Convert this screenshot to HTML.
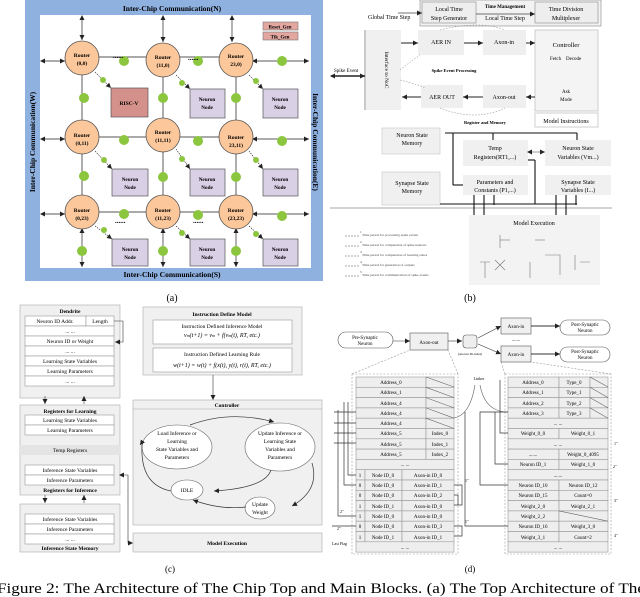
<!DOCTYPE html>
<html><head><meta charset="utf-8"><style>
html,body{margin:0;padding:0;background:#fff;}
svg{display:block;font-family:"Liberation Serif",serif;}
.b{font-weight:bold}
</style></head><body>
<svg width="640" height="597" viewBox="0 0 640 597" xmlns="http://www.w3.org/2000/svg">
<defs>
<marker id="ar" markerWidth="6" markerHeight="6" refX="5" refY="3" orient="auto" markerUnits="userSpaceOnUse"><path d="M0,0.5 L5,3 L0,5.5z" fill="#222"/></marker>
<marker id="as" markerWidth="6" markerHeight="6" refX="1" refY="3" orient="auto" markerUnits="userSpaceOnUse"><path d="M5,0.5 L0,3 L5,5.5z" fill="#222"/></marker>
</defs>

<!-- ===== (a) ===== -->
<rect x="25" y="0" width="298" height="281" fill="#8fb1e0"/>
<rect x="40" y="15" width="271" height="253" fill="#fff"/>
<text x="172" y="11" font-size="7.5" class="b" text-anchor="middle">Inter-Chip Communication(N)</text>
<text x="172" y="277" font-size="7.5" class="b" text-anchor="middle">Inter-Chip Communication(S)</text>
<text transform="translate(35,142) rotate(-90)" font-size="7.5" class="b" text-anchor="middle">Inter-Chip Communication(W)</text>
<text transform="translate(313,142) rotate(90)" font-size="7.5" class="b" text-anchor="middle">Inter-Chip Communication(E)</text>
<rect x="263" y="22" width="35" height="8" fill="#e3a7a0" stroke="#777" stroke-width="0.6"/>
<text x="280" y="28.5" font-size="5" class="b" text-anchor="middle">Reset_Gen</text>
<rect x="263" y="32" width="35" height="8" fill="#e3a7a0" stroke="#777" stroke-width="0.6"/>
<text x="280" y="38.5" font-size="5" class="b" text-anchor="middle">Tik_Gen</text>
<g stroke="#777" stroke-width="1.2">
<line x1="82" y1="57" x2="236" y2="57"/><line x1="82" y1="137" x2="236" y2="137"/><line x1="82" y1="212" x2="236" y2="212"/>
<line x1="82" y1="57" x2="82" y2="212"/><line x1="163" y1="57" x2="163" y2="212"/><line x1="236" y1="57" x2="236" y2="212"/>
</g>
<g stroke="#222" stroke-width="0.7" marker-end="url(#ar)" marker-start="url(#as)">
<line x1="82" y1="16" x2="82" y2="40"/><line x1="163" y1="16" x2="163" y2="42"/><line x1="232" y1="16" x2="232" y2="42"/>
<line x1="41" y1="61" x2="65" y2="61"/><line x1="41" y1="139" x2="65" y2="139"/><line x1="41" y1="214" x2="65" y2="214"/>
<line x1="253" y1="61" x2="309" y2="61"/><line x1="253" y1="139" x2="309" y2="139"/><line x1="253" y1="214" x2="309" y2="214"/>
<line x1="82" y1="229" x2="82" y2="267"/><line x1="163" y1="229" x2="163" y2="267"/><line x1="236" y1="229" x2="236" y2="267"/>
</g>
<g fill="#fcc79a" stroke="#555" stroke-width="0.8">
<circle cx="82" cy="58" r="17"/><circle cx="163" cy="60" r="17"/><circle cx="236" cy="60" r="17"/>
<circle cx="82" cy="137" r="17"/><circle cx="163" cy="135" r="17"/><circle cx="236" cy="137" r="17"/>
<circle cx="82" cy="212" r="17"/><circle cx="163" cy="212" r="17"/><circle cx="236" cy="212" r="17"/>
</g>
<g font-size="5.5" class="b" text-anchor="middle">
<text x="82" y="57">Router</text><text x="82" y="65">(0,0)</text>
<text x="163" y="59">Router</text><text x="163" y="67">(11,0)</text>
<text x="236" y="58">Router</text><text x="236" y="66">23,0)</text>
<text x="82" y="137">Router</text><text x="82" y="145">(0,11)</text>
<text x="163" y="134">Router</text><text x="163" y="142">(11,11)</text>
<text x="236" y="139">Router</text><text x="236" y="147">23,11)</text>
<text x="82" y="212">Router</text><text x="82" y="220">(0,23)</text>
<text x="163" y="212">Router</text><text x="163" y="220">(11,23)</text>
<text x="236" y="212">Router</text><text x="236" y="220">(23,23)</text>
</g>
<rect x="111" y="88" width="37" height="29" fill="#d4908a" stroke="#555" stroke-width="0.7"/>
<text x="129" y="105" font-size="5.5" class="b" text-anchor="middle">RISC-V</text>
<g fill="#d9d0e6" stroke="#555" stroke-width="0.7">
<rect x="190" y="89" width="35" height="29"/><rect x="263" y="89" width="35" height="29"/>
<rect x="112" y="169" width="36" height="27"/><rect x="190" y="169" width="35" height="27"/><rect x="263" y="169" width="35" height="27"/>
<rect x="112" y="239" width="36" height="27"/><rect x="190" y="239" width="35" height="27"/><rect x="263" y="239" width="35" height="27"/>
</g>
<g font-size="5.2" class="b" text-anchor="middle">
<text x="207" y="101">Neuron</text><text x="207" y="109">Node</text>
<text x="280" y="101">Neuron</text><text x="280" y="109">Node</text>
<text x="130" y="181">Neuron</text><text x="130" y="189">Node</text>
<text x="207" y="181">Neuron</text><text x="207" y="189">Node</text>
<text x="280" y="181">Neuron</text><text x="280" y="189">Node</text>
<text x="130" y="251">Neuron</text><text x="130" y="259">Node</text>
<text x="207" y="251">Neuron</text><text x="207" y="259">Node</text>
<text x="280" y="251">Neuron</text><text x="280" y="259">Node</text>
</g>
<g stroke="#222" stroke-width="0.6" stroke-dasharray="1.5,1" marker-end="url(#ar)">
<line x1="95" y1="72" x2="111" y2="88"/><line x1="176" y1="75" x2="190" y2="89"/><line x1="249" y1="75" x2="263" y2="89"/>
<line x1="95" y1="151" x2="112" y2="169"/><line x1="176" y1="149" x2="190" y2="169"/><line x1="249" y1="151" x2="263" y2="169"/>
<line x1="95" y1="226" x2="112" y2="239"/><line x1="176" y1="226" x2="190" y2="239"/><line x1="249" y1="226" x2="263" y2="239"/>
</g>
<g fill="#8cc63f">
<circle cx="124" cy="61" r="5"/><circle cx="198" cy="61" r="5"/><circle cx="282" cy="61" r="5"/>
<circle cx="124" cy="140" r="5"/><circle cx="198" cy="141" r="5"/><circle cx="282" cy="141" r="5"/>
<circle cx="124" cy="214" r="5"/><circle cx="198" cy="215" r="5"/><circle cx="282" cy="216" r="5"/>
<circle cx="84" cy="98" r="5"/><circle cx="163" cy="98" r="5"/><circle cx="236" cy="98" r="5"/>
<circle cx="84" cy="176" r="5"/><circle cx="163" cy="177" r="5"/><circle cx="236" cy="177" r="5"/>
<circle cx="82" cy="251" r="5"/><circle cx="163" cy="251" r="5"/><circle cx="236" cy="251" r="5"/>
<circle cx="103" cy="80" r="3"/><circle cx="182" cy="83" r="3"/><circle cx="256" cy="81" r="3"/>
<circle cx="104" cy="160" r="3"/><circle cx="182" cy="159" r="3"/><circle cx="256" cy="160" r="3"/>
<circle cx="104" cy="230" r="3"/><circle cx="182" cy="233" r="3"/><circle cx="256" cy="234" r="3"/>
</g>
<g font-size="7" class="b"><text x="113" y="58">......</text><text x="188" y="60">......</text><text x="115" y="223">......</text><text x="193" y="223">......</text></g>
<text x="172" y="301" font-size="10" text-anchor="middle">(a)</text>

<!-- ===== (b) ===== -->
<g font-size="6" stroke-width="0.7">
<rect x="420" y="0" width="181" height="26" fill="#f2f2f2" stroke="#999"/>
<rect x="422" y="2" width="54" height="21" fill="#eee" stroke="#999"/>
<rect x="535" y="2" width="63" height="21" fill="#eee" stroke="#999"/>
<text x="449" y="11" text-anchor="middle">Local Time</text><text x="449" y="20" text-anchor="middle">Step Generator</text>
<text x="566" y="11" text-anchor="middle">Time Division</text><text x="566" y="20" text-anchor="middle">Multiplexer</text>
<text x="505" y="8" font-size="5" class="b" text-anchor="middle">Time Management</text>
<text x="505" y="20" text-anchor="middle">Local Time Step</text>
<text x="368" y="19">Global Time Step</text>
<line x1="476" y1="14" x2="535" y2="14" stroke="#444" marker-end="url(#ar)"/>
<line x1="398" y1="13" x2="422" y2="13" stroke="#444" marker-end="url(#ar)"/>
<rect x="366" y="30" width="35" height="80" fill="#f0f0f0"/>
<line x1="365" y1="30" x2="365" y2="110" stroke="#666"/>
<text transform="translate(385,70) rotate(90)" text-anchor="middle" font-size="5.5">Interface to NoC</text>
<rect x="418" y="30" width="46" height="25" fill="#efefef"/><text x="441" y="44" text-anchor="middle">AER IN</text>
<rect x="483" y="30" width="43" height="25" fill="#efefef"/><text x="504" y="44" text-anchor="middle">Axon-in</text>
<rect x="421" y="85" width="42" height="23" fill="#efefef"/><text x="442" y="99" text-anchor="middle">AER OUT</text>
<rect x="483" y="85" width="43" height="23" fill="#efefef"/><text x="504" y="99" text-anchor="middle">Axon-out</text>
<rect x="535" y="30" width="63" height="81" fill="#f4f4f4" stroke="#bbb"/>
<text x="566" y="47" text-anchor="middle" font-size="6.5">Controller</text>
<text x="550" y="60" font-size="5">Fetch</text><text x="566" y="60" font-size="5">Decode</text>
<text x="566" y="93" text-anchor="middle" font-size="5">Ask</text><text x="566" y="101" text-anchor="middle" font-size="5">Mode</text>
<rect x="535" y="113" width="63" height="14" fill="#fff" stroke="#bbb"/>
<text x="566" y="123" text-anchor="middle">Model Instructions</text>
<text x="454" y="72" text-anchor="middle" font-size="4.5" class="b">Spike Event Processing</text>
<text x="485" y="124" text-anchor="middle" font-size="4.5" class="b">Register and Memory</text>
<text x="334" y="72" font-size="5">Spike Event</text>
<line x1="331" y1="76" x2="365" y2="76" stroke="#222" stroke-width="1.4" marker-start="url(#as)" marker-end="url(#ar)"/>
<g stroke="#222" stroke-width="1" marker-end="url(#ar)">
<line x1="401" y1="43" x2="418" y2="43"/><line x1="464" y1="43" x2="483" y2="43"/><line x1="526" y1="43" x2="535" y2="43"/>
<line x1="483" y1="97" x2="463" y2="97"/><line x1="421" y1="97" x2="402" y2="97"/><line x1="535" y1="97" x2="526" y2="97"/>
</g>
<g fill="none" stroke="#777" stroke-dasharray="1.5,1.5" stroke-width="0.5">
<path d="M440,30 Q480,20 505,30"/><path d="M440,108 Q475,122 505,108"/><path d="M400,70 Q410,62 420,55"/><path d="M400,80 Q420,85 425,88"/>
</g>
<rect x="382" y="128" width="58" height="26" fill="#f0f0f0" stroke="#ccc"/>
<text x="412" y="137" text-anchor="middle">Neuron State</text><text x="412" y="145" text-anchor="middle">Memory</text>
<rect x="382" y="172" width="58" height="33" fill="#f0f0f0" stroke="#ccc"/>
<text x="412" y="185" text-anchor="middle">Synapse State</text><text x="412" y="193" text-anchor="middle">Memory</text>
<rect x="463" y="140" width="65" height="26" fill="#f0f0f0"/>
<text x="495" y="150" text-anchor="middle">Temp</text><text x="495" y="159" text-anchor="middle">Registers(RT1,...)</text>
<rect x="463" y="175" width="65" height="20" fill="#f0f0f0"/>
<text x="495" y="184" text-anchor="middle">Parameters and</text><text x="495" y="192" text-anchor="middle">Constants (P1,...)</text>
<rect x="545" y="140" width="66" height="26" fill="#f0f0f0"/>
<text x="578" y="150" text-anchor="middle">Neuron State</text><text x="578" y="159" text-anchor="middle">Variables (Vm...)</text>
<rect x="545" y="175" width="66" height="20" fill="#f0f0f0"/>
<text x="578" y="184" text-anchor="middle">Synapse State</text><text x="578" y="192" text-anchor="middle">Variables (I...)</text>
<line x1="330" y1="208" x2="612" y2="208" stroke="#888"/>
<g stroke="#111" stroke-width="1.1" fill="none">
<line x1="445" y1="133" x2="577" y2="133"/><line x1="453" y1="133" x2="453" y2="185"/><line x1="453" y1="185" x2="463" y2="185"/>
<line x1="493" y1="133" x2="493" y2="140"/><line x1="577" y1="133" x2="577" y2="140"/>
<line x1="440" y1="204" x2="540" y2="204"/><line x1="535" y1="160" x2="535" y2="204"/><line x1="535" y1="160" x2="528" y2="160"/>
<line x1="540" y1="204" x2="577" y2="204"/>
<line x1="474" y1="195" x2="474" y2="215"/><line x1="484" y1="195" x2="484" y2="215"/><line x1="494" y1="195" x2="494" y2="205"/>
<line x1="556" y1="195" x2="556" y2="215"/><line x1="566" y1="195" x2="566" y2="215"/><line x1="576" y1="195" x2="576" y2="205"/>
</g>
<line x1="528" y1="152" x2="545" y2="152" stroke="#333" stroke-width="0.5" marker-start="url(#as)" marker-end="url(#ar)"/>
<rect x="469" y="215" width="131" height="70" fill="#f3f3f3"/>
<text x="534" y="225" text-anchor="middle" font-size="6">Model Execution</text>
<g stroke="#777" fill="none" stroke-width="0.6">
<line x1="500" y1="235" x2="500" y2="248"/><line x1="500" y1="240" x2="510" y2="240"/><line x1="535" y1="240" x2="545" y2="240"/>
<path d="M480,262 L490,262 M485,262 L485,278 M495,260 L505,270 M505,260 L495,270 M530,262 L530,278 M545,255 L560,255 L560,275 M575,255 L575,270 M580,262 L590,262"/>
</g>
<g font-size="3.5" fill="#444">
<text x="360" y="233">1</text><text x="362" y="236">Time period for processing spike events</text>
<text x="360" y="243">2</text><text x="362" y="246">Time period for computation of spike neurons</text>
<text x="360" y="253">3</text><text x="362" y="256">Time period for computation of learning states</text>
<text x="360" y="263">4</text><text x="362" y="266">Time period for generation of outputs</text>
<text x="360" y="273">5</text><text x="362" y="276">Time period for communication of spike events</text>
</g>
<g stroke="#555" stroke-width="0.5" stroke-dasharray="2,1"><line x1="345" y1="236" x2="360" y2="236"/><line x1="345" y1="246" x2="360" y2="246"/><line x1="345" y1="256" x2="360" y2="256"/><line x1="345" y1="266" x2="360" y2="266"/><line x1="345" y1="276" x2="360" y2="276"/></g>
</g>
<text x="470" y="301" font-size="10" text-anchor="middle">(b)</text>

<!-- ===== (c) ===== -->
<g font-size="5.5" stroke-width="0.6">
<rect x="20" y="305" width="100" height="93" fill="#f0f0f0" stroke="#aaa"/>
<text x="70" y="313" text-anchor="middle" class="b">Dendrite</text>
<g fill="#fff" stroke="#999">
<rect x="25" y="316" width="61" height="10"/><rect x="86" y="316" width="28" height="10"/>
<rect x="25" y="326" width="89" height="10"/><rect x="25" y="336" width="89" height="10"/><rect x="25" y="346" width="89" height="10"/>
<rect x="25" y="356" width="89" height="10"/><rect x="25" y="366" width="89" height="10"/><rect x="25" y="376" width="89" height="10"/>
</g>
<text x="55" y="323" text-anchor="middle">Neuron ID Addr.</text><text x="100" y="323" text-anchor="middle">Length</text>
<text x="70" y="333" text-anchor="middle">... ...</text><text x="70" y="343" text-anchor="middle">Neuron ID or Weight</text>
<text x="70" y="353" text-anchor="middle">... ...</text><text x="70" y="363" text-anchor="middle">Learning State Variables</text>
<text x="70" y="373" text-anchor="middle">Learning Parameters</text><text x="70" y="383" text-anchor="middle">... ...</text>
<path d="M114,321 L123,321 L123,342 L115,342" fill="none" stroke="#333" marker-end="url(#ar)"/>
<line x1="45" y1="396" x2="45" y2="404" stroke="#333" marker-end="url(#ar)"/><line x1="84" y1="404" x2="84" y2="396" stroke="#333" marker-end="url(#ar)"/>
<rect x="20" y="405" width="100" height="90" fill="#f0f0f0" stroke="#aaa"/>
<text x="70" y="413" text-anchor="middle" class="b">Registers for  Learning</text>
<g fill="#fff" stroke="#999"><rect x="25" y="415" width="89" height="10"/><rect x="25" y="425" width="89" height="10"/>
<rect x="25" y="465" width="89" height="10"/><rect x="25" y="475" width="89" height="10"/></g>
<rect x="20" y="445" width="100" height="10" fill="#e4e4e4"/>
<text x="70" y="422" text-anchor="middle">Learning State Variables</text><text x="70" y="432" text-anchor="middle">Learning Parameters</text>
<text x="70" y="452" text-anchor="middle">Temp Registers</text>
<text x="70" y="472" text-anchor="middle">Inference State Variables</text><text x="70" y="482" text-anchor="middle">Inference Parameters</text>
<text x="70" y="492" text-anchor="middle" class="b">Registers for Inference</text>
<line x1="45" y1="495" x2="45" y2="503" stroke="#333" marker-end="url(#ar)"/><line x1="84" y1="503" x2="84" y2="495" stroke="#333" marker-end="url(#ar)"/>
<rect x="20" y="504" width="100" height="48" fill="#f0f0f0" stroke="#aaa"/>
<g fill="#fff" stroke="#999"><rect x="25" y="514" width="89" height="10"/><rect x="25" y="524" width="89" height="10"/><rect x="25" y="534" width="89" height="10"/></g>
<text x="70" y="521" text-anchor="middle">Inference State Variables</text><text x="70" y="531" text-anchor="middle">Inference Parameters</text>
<text x="70" y="541" text-anchor="middle">... ...</text><text x="70" y="550" text-anchor="middle" class="b">Inference State Memory</text>
<path d="M120,475 L128,475 L128,543 L133,543" fill="none" stroke="#333" marker-start="url(#as)" marker-end="url(#ar)"/>
<rect x="143" y="307" width="159" height="68" fill="#f0f0f0" stroke="#aaa"/>
<text x="222" y="316" text-anchor="middle" class="b">Instruction Define Model</text>
<rect x="153" y="320" width="139" height="24" fill="#fff" stroke="#999"/>
<rect x="153" y="348" width="139" height="24" fill="#fff" stroke="#999"/>
<text x="222" y="328" text-anchor="middle">Instruction Defined Inference Model</text>
<text x="222" y="337" text-anchor="middle" font-style="italic" font-size="6">v<tspan font-size="4">m</tspan>(t+1) = v<tspan font-size="4">m</tspan> + f(v<tspan font-size="4">m</tspan>(t), RT, etc.)</text>
<text x="222" y="356" text-anchor="middle">Instruction Defined Learning Rule</text>
<text x="222" y="367" text-anchor="middle" font-style="italic" font-size="6">w(t+1) = w(t) + f(x(t), y(t), r(t), RT, etc.)</text>
<line x1="213" y1="375" x2="213" y2="400" stroke="#333" marker-end="url(#ar)"/>
<rect x="133" y="400" width="189" height="125" fill="#f0f0f0" stroke="#aaa"/>
<line x1="133" y1="409" x2="322" y2="409" stroke="#aaa"/>
<text x="227" y="407" text-anchor="middle" class="b">Controller</text>
<g fill="#fff" stroke="#666">
<ellipse cx="177" cy="447" rx="35" ry="22"/><ellipse cx="280" cy="447" rx="35" ry="24"/>
<ellipse cx="187" cy="490" rx="16" ry="10"/><ellipse cx="260" cy="508" rx="15" ry="11"/>
</g>
<text x="177" y="435" text-anchor="middle">Load Inference or</text><text x="177" y="443" text-anchor="middle">Learning</text>
<text x="177" y="451" text-anchor="middle">State Variables and</text><text x="177" y="459" text-anchor="middle">Parameters</text>
<text x="280" y="435" text-anchor="middle">Update Inference  or</text><text x="280" y="443" text-anchor="middle">Learning State</text>
<text x="280" y="451" text-anchor="middle">Variables and</text><text x="280" y="459" text-anchor="middle">Parameters</text>
<text x="187" y="492" text-anchor="middle">IDLE</text>
<text x="260" y="506" text-anchor="middle">Update</text><text x="260" y="514" text-anchor="middle">Weight</text>
<g fill="none" stroke="#333" stroke-width="0.7" marker-end="url(#ar)">
<path d="M190,425 Q230,410 274,422"/><path d="M271,470 Q265,488 214,491"/><path d="M312,463 Q320,490 292,506"/>
<path d="M246,507 Q220,510 193,500"/><path d="M171,491 Q140,485 142,445 Q145,438 140,445"/>
</g>
<rect x="133" y="533" width="189" height="19" fill="#f0f0f0" stroke="#aaa"/>
<text x="227" y="545" text-anchor="middle" class="b">Model Execution</text>
</g>
<text x="170" y="572" font-size="9" text-anchor="middle">(c)</text>

<!-- ===== (d) ===== -->
<g font-size="5" stroke-width="0.6">
<rect x="338" y="332" width="55" height="16" rx="8" fill="#fff" stroke="#555"/>
<text x="365" y="339" text-anchor="middle">Pre-Synaptic</text><text x="365" y="345" text-anchor="middle">Neuron</text>
<rect x="410" y="333" width="38" height="17" fill="#f0f0f0" stroke="#555"/><text x="429" y="344" text-anchor="middle">Axon-out</text>
<line x1="393" y1="341" x2="410" y2="341" stroke="#333" marker-end="url(#ar)"/>
<line x1="448" y1="341" x2="462" y2="341" stroke="#333" marker-end="url(#ar)"/>
<rect x="463" y="335" width="14" height="13" rx="3" fill="#eee" stroke="#555"/>
<text x="470" y="355" text-anchor="middle" font-size="3">(Axon-in ID, Index)</text>
<line x1="478" y1="338" x2="501" y2="326" stroke="#333" marker-end="url(#ar)"/><line x1="478" y1="344" x2="501" y2="354" stroke="#333" marker-end="url(#ar)"/>
<rect x="501" y="318" width="30" height="16" fill="#f0f0f0" stroke="#555"/><text x="516" y="328" text-anchor="middle">Axon-in</text>
<rect x="501" y="346" width="30" height="16" fill="#f0f0f0" stroke="#555"/><text x="516" y="356" text-anchor="middle">Axon-in</text>
<text x="516" y="341" text-anchor="middle">.......</text>
<line x1="531" y1="326" x2="560" y2="326" stroke="#333" stroke-width="1" marker-end="url(#ar)"/><line x1="531" y1="354" x2="560" y2="354" stroke="#333" stroke-width="1" marker-end="url(#ar)"/>
<rect x="560" y="320" width="50" height="15" rx="7.5" fill="#fff" stroke="#555"/><text x="585" y="326" text-anchor="middle">Post-Synaptic</text><text x="585" y="332" text-anchor="middle">Neuron</text>
<rect x="560" y="347" width="50" height="15" rx="7.5" fill="#fff" stroke="#555"/><text x="585" y="353" text-anchor="middle">Post-Synaptic</text><text x="585" y="359" text-anchor="middle">Neuron</text>
<g stroke="#999" stroke-dasharray="2,1.5" fill="none">
<rect x="352" y="374" width="106" height="180"/><rect x="505" y="374" width="106" height="180"/>
<line x1="352" y1="374" x2="410" y2="350"/><line x1="458" y1="374" x2="448" y2="350"/>
<line x1="505" y1="374" x2="501" y2="362"/><line x1="611" y1="374" x2="531" y2="362"/>
</g>
<g fill="#eee" stroke="#999">
<rect x="356" y="377" width="70" height="10.3"/><rect x="426" y="377" width="28" height="10.3"/>
<rect x="356" y="387.3" width="70" height="10.3"/><rect x="426" y="387.3" width="28" height="10.3"/>
<rect x="356" y="397.6" width="70" height="10.3"/><rect x="426" y="397.6" width="28" height="10.3"/>
<rect x="356" y="407.9" width="70" height="10.3"/><rect x="426" y="407.9" width="28" height="10.3"/>
<rect x="356" y="418.2" width="70" height="10.3"/><rect x="426" y="418.2" width="28" height="10.3"/>
<rect x="356" y="428.5" width="70" height="10.3"/><rect x="426" y="428.5" width="28" height="10.3"/>
<rect x="356" y="438.8" width="70" height="10.3"/><rect x="426" y="438.8" width="28" height="10.3"/>
<rect x="356" y="449.1" width="70" height="10.3"/><rect x="426" y="449.1" width="28" height="10.3"/>
<rect x="356" y="459.4" width="98" height="10.3"/>
<rect x="356" y="469.7" width="9" height="10.3"/><rect x="365" y="469.7" width="37" height="10.3"/><rect x="402" y="469.7" width="52" height="10.3"/>
<rect x="356" y="480" width="9" height="10.3"/><rect x="365" y="480" width="37" height="10.3"/><rect x="402" y="480" width="52" height="10.3"/>
<rect x="356" y="490.3" width="9" height="10.3"/><rect x="365" y="490.3" width="37" height="10.3"/><rect x="402" y="490.3" width="52" height="10.3"/>
<rect x="356" y="500.6" width="9" height="10.3"/><rect x="365" y="500.6" width="37" height="10.3"/><rect x="402" y="500.6" width="52" height="10.3"/>
<rect x="356" y="510.9" width="9" height="10.3"/><rect x="365" y="510.9" width="37" height="10.3"/><rect x="402" y="510.9" width="52" height="10.3"/>
<rect x="356" y="521.2" width="9" height="10.3"/><rect x="365" y="521.2" width="37" height="10.3"/><rect x="402" y="521.2" width="52" height="10.3"/>
<rect x="356" y="531.5" width="9" height="10.3"/><rect x="365" y="531.5" width="37" height="10.3"/><rect x="402" y="531.5" width="52" height="10.3"/>
<rect x="356" y="541.8" width="98" height="10.3"/>
</g>
<g stroke="#666"><line x1="426" y1="377" x2="454" y2="387"/><line x1="426" y1="387.3" x2="454" y2="397.6"/><line x1="426" y1="397.6" x2="454" y2="407.9"/><line x1="426" y1="407.9" x2="454" y2="418.2"/><line x1="426" y1="418.2" x2="454" y2="428.5"/></g>
<g text-anchor="middle">
<text x="391" y="384">Address_0</text><text x="391" y="394">Address_1</text><text x="391" y="405">Address_4</text><text x="391" y="415">Address_4</text><text x="391" y="425">Address_4</text>
<text x="391" y="435">Address_5</text><text x="440" y="435">Index_0</text>
<text x="391" y="446">Address_5</text><text x="440" y="446">Index_1</text>
<text x="391" y="456">Address_5</text><text x="440" y="456">Index_2</text>
<text x="405" y="466">... ...</text>
<text x="360" y="477">1</text><text x="383" y="477">Node ID_0</text><text x="428" y="477">Axon-in ID_0</text>
<text x="360" y="487">0</text><text x="383" y="487">Node ID_0</text><text x="428" y="487">Axon-in ID_1</text>
<text x="360" y="497">0</text><text x="383" y="497">Node ID_0</text><text x="428" y="497">Axon-in ID_2</text>
<text x="360" y="508">1</text><text x="383" y="508">Node ID_1</text><text x="428" y="508">Axon-in ID_0</text>
<text x="360" y="518">1</text><text x="383" y="518">Node ID_0</text><text x="428" y="518">Axon-in ID_0</text>
<text x="360" y="528">0</text><text x="383" y="528">Node ID_0</text><text x="428" y="528">Axon-in ID_3</text>
<text x="360" y="539">1</text><text x="383" y="539">Node ID_1</text><text x="428" y="539">Axon-in ID_1</text>
<text x="405" y="549">... ...</text>
</g>
<g fill="#eee" stroke="#999">
<rect x="508" y="377" width="51" height="10.3"/><rect x="559" y="377" width="31" height="10.3"/><rect x="590" y="377" width="18" height="10.3"/>
<rect x="508" y="387.3" width="51" height="10.3"/><rect x="559" y="387.3" width="31" height="10.3"/><rect x="590" y="387.3" width="18" height="10.3"/>
<rect x="508" y="397.6" width="51" height="10.3"/><rect x="559" y="397.6" width="31" height="10.3"/><rect x="590" y="397.6" width="18" height="10.3"/>
<rect x="508" y="407.9" width="51" height="10.3"/><rect x="559" y="407.9" width="31" height="10.3"/><rect x="590" y="407.9" width="18" height="10.3"/>
<rect x="508" y="418.2" width="100" height="10.3"/>
<rect x="508" y="428.5" width="51" height="10.3"/><rect x="559" y="428.5" width="49" height="10.3"/>
<rect x="508" y="438.8" width="100" height="10.3"/>
<rect x="508" y="449.1" width="51" height="10.3"/><rect x="559" y="449.1" width="49" height="10.3"/>
<rect x="508" y="459.4" width="51" height="10.3"/><rect x="559" y="459.4" width="49" height="10.3"/>
<rect x="508" y="469.7" width="100" height="10.3"/>
<rect x="508" y="480" width="51" height="10.3"/><rect x="559" y="480" width="49" height="10.3"/>
<rect x="508" y="490.3" width="51" height="10.3"/><rect x="559" y="490.3" width="49" height="10.3"/>
<rect x="508" y="500.6" width="51" height="10.3"/><rect x="559" y="500.6" width="49" height="10.3"/>
<rect x="508" y="510.9" width="51" height="10.3"/><rect x="559" y="510.9" width="49" height="10.3"/>
<rect x="508" y="521.2" width="51" height="10.3"/><rect x="559" y="521.2" width="49" height="10.3"/>
<rect x="508" y="531.5" width="51" height="10.3"/><rect x="559" y="531.5" width="49" height="10.3"/>
<rect x="508" y="541.8" width="100" height="10.3"/>
</g>
<g stroke="#666"><line x1="590" y1="377" x2="608" y2="387"/><line x1="590" y1="387.3" x2="608" y2="397.6"/><line x1="590" y1="397.6" x2="608" y2="407.9"/><line x1="590" y1="407.9" x2="608" y2="418.2"/><line x1="559" y1="510.9" x2="608" y2="521.2"/></g>
<g text-anchor="middle">
<text x="533" y="384">Address_0</text><text x="574" y="384">Type_0</text>
<text x="533" y="394">Address_1</text><text x="574" y="394">Type_1</text>
<text x="533" y="405">Address_2</text><text x="574" y="405">Type_2</text>
<text x="533" y="415">Address_3</text><text x="574" y="415">Type_3</text>
<text x="558" y="425">... ...</text>
<text x="533" y="435">Weight_0_0</text><text x="583" y="435">Weight_0_1</text>
<text x="558" y="446">... ...</text>
<text x="533" y="456">.......</text><text x="583" y="456">Weight_0_4095</text>
<text x="533" y="466">Neuron ID_1</text><text x="583" y="466">Weight_1_0</text>
<text x="558" y="477">.......</text>
<text x="533" y="487">Neuron ID_10</text><text x="583" y="487">Neuron ID_12</text>
<text x="533" y="497">Neuron ID_15</text><text x="583" y="497">Count=0</text>
<text x="533" y="508">Weight_2_0</text><text x="583" y="508">Weight_2_1</text>
<text x="533" y="518">Weight_2_2</text>
<text x="533" y="528">Neuron ID_16</text><text x="583" y="528">Weight_3_0</text>
<text x="533" y="539">Weight_3_1</text><text x="583" y="539">Count=2</text>
<text x="558" y="549">... ...</text>
</g>
<text x="479" y="380" text-anchor="middle" font-size="4">Linker</text>
<path d="M454,418 Q470,415 475,385" fill="none" stroke="#555"/><path d="M480,385 Q485,412 508,412" fill="none" stroke="#555"/>
<g fill="none" stroke="#333" stroke-width="0.7">
<path d="M508,433 L500,433 L500,380"/><path d="M508,464 L495,464 L495,412"/><path d="M508,485 L480,485 L480,412 L508,412"/><path d="M508,526 L465,526 L465,412"/>
<path d="M356,475 L348,475 L348,402"/><path d="M356,485 L344,485 L344,402"/><path d="M356,516 L338,516 L338,410"/><path d="M356,526 L332,526"/>
<path d="M334,412 L356,412 M334,423 L356,423 M334,433 L356,433 M334,443 L356,443"/>
<path d="M454,485 L462,485 L462,505 L454,505"/><path d="M454,495 L458,495 L458,505"/><path d="M454,526 L462,526 L462,536 L454,536"/>
</g>
<g font-size="4"><text x="465" y="482">1"</text><text x="465" y="523">1"</text><text x="340" y="513">2"</text><text x="337" y="530">2"</text><text x="332" y="545">Last Flag</text>
<text x="614" y="445">1"</text><text x="613" y="468">2"</text><text x="614" y="502">3"</text><text x="614" y="537">4"</text></g>
</g>
<text x="470" y="572" font-size="9" text-anchor="middle">(d)</text>

<text x="-3" y="593" font-size="14.5" textLength="648" lengthAdjust="spacingAndGlyphs">Figure 2: The Architecture of The Chip Top and Main Blocks.  (a) The Top Architecture of The</text>
</svg>
</body></html>
